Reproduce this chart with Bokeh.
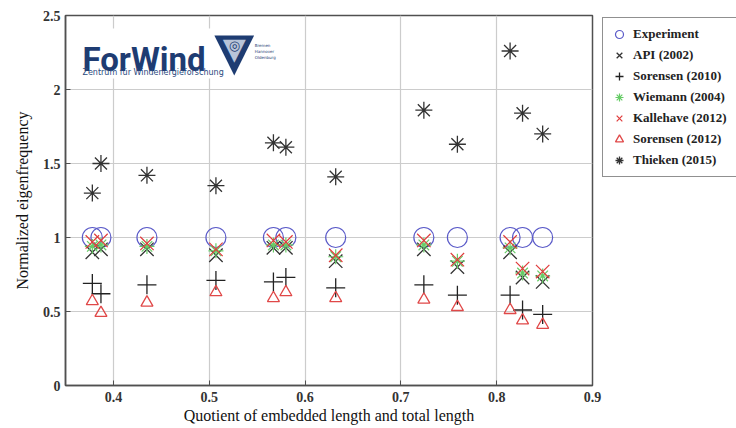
from bokeh.plotting import figure
from bokeh.models import Legend, LegendItem, Label, BoxAnnotation, FixedTicker
from bokeh.embed import file_html
from bokeh.resources import INLINE

# ---- data ----
quotient = [0.378, 0.387, 0.435, 0.507, 0.567, 0.580, 0.632, 0.724, 0.759, 0.814, 0.827, 0.848]
experiment = [1.0, 1.0, 1.0, 1.0, 1.0, 1.0, 1.0, 1.0, 1.0, 1.0, 1.0, 1.0]
api_2002 = [0.90, 0.92, 0.92, 0.88, 0.93, 0.93, 0.84, 0.92, 0.80, 0.90, 0.73, 0.70]
sorensen_2010 = [0.69, 0.62, 0.68, 0.71, 0.70, 0.73, 0.66, 0.68, 0.61, 0.61, 0.51, 0.48]
wiemann_2004 = [0.94, 0.95, 0.94, 0.91, 0.95, 0.95, 0.87, 0.95, 0.84, 0.93, 0.76, 0.74]
kallehave_2012 = [0.97, 0.98, 0.96, 0.92, 0.98, 0.97, 0.88, 0.98, 0.85, 0.97, 0.79, 0.77]
sorensen_2012 = [0.57, 0.49, 0.56, 0.63, 0.59, 0.63, 0.59, 0.58, 0.53, 0.51, 0.44, 0.41]
thieken_2015 = [1.30, 1.50, 1.42, 1.35, 1.64, 1.61, 1.41, 1.86, 1.63, 2.26, 1.84, 1.70]

x_ticks = [0.4, 0.5, 0.6, 0.7, 0.8, 0.9]
y_ticks = [0, 0.5, 1, 1.5, 2, 2.5]
y_tick_labels = ["0", "0.5", "1", "1.5", "2", "2.5"]
x_tick_labels = ["0.4", "0.5", "0.6", "0.7", "0.8", "0.9"]

SERIF = "Liberation Serif"

p = figure(frame_width=527, frame_height=370, x_range=(0.35, 0.9), y_range=(0, 2.5),
           output_backend="svg", toolbar_location=None,
           min_border_left=65, min_border_top=15, min_border_right=0, min_border_bottom=43,
           background_fill_color="white", border_fill_color="white")

p.outline_line_color = "#505050"
p.outline_line_width = 1.5

p.xaxis.ticker = FixedTicker(ticks=x_ticks)
p.yaxis.ticker = FixedTicker(ticks=y_ticks)
p.xaxis.major_label_overrides = {t: l for t, l in zip(x_ticks, x_tick_labels)}
p.yaxis.major_label_overrides = {t: l for t, l in zip(y_ticks, y_tick_labels)}
for ax in (p.xaxis[0], p.yaxis[0]):
    ax.axis_line_color = "#505050"
    ax.axis_line_width = 1.5
    ax.major_tick_in = 5
    ax.major_tick_out = 0
    ax.minor_tick_line_color = None
    ax.major_tick_line_color = "#505050"
    ax.major_label_text_font = SERIF
    ax.major_label_text_font_style = "bold"
    ax.major_label_text_font_size = "14px"
    ax.major_label_text_color = "#333333"
    ax.axis_label_text_font = SERIF
    ax.axis_label_text_font_style = "normal"
    ax.axis_label_text_font_size = "16px"
    ax.axis_label_text_color = "#111111"

p.xaxis.axis_label = "Quotient of embedded length and total length"
p.yaxis.axis_label = "Normalized eigenfrequency"
p.xaxis.major_label_standoff = 6
p.xaxis.axis_label_standoff = 2
p.yaxis.major_label_standoff = 5
p.yaxis.axis_label_standoff = 9

p.xgrid.grid_line_color = "#cccccc"
p.ygrid.grid_line_color = "#cccccc"
p.xgrid.grid_line_width = 1.2
p.ygrid.grid_line_width = 1.2

# ---- series ----
r_exp = p.scatter(quotient, experiment, marker="circle", size=20, fill_color=None,
                  line_color="#5a5ac8", line_width=1.2)
r_api = p.scatter(quotient, api_2002, marker="x", size=19, line_color="#333333", line_width=1.3)
r_s10 = p.scatter(quotient, sorensen_2010, marker="cross", size=19, line_color="#222222", line_width=1.3)
r_wie = p.scatter(quotient, wiemann_2004, marker="asterisk", size=15, line_color="#66cc66", line_width=1.2)
r_kal = p.scatter(quotient, kallehave_2012, marker="x", size=19, line_color="#e03c3c", line_width=1.2)
r_s12 = p.scatter(quotient, sorensen_2012, marker="triangle", size=12, fill_color=None,
                  line_color="#e04848", line_width=1.3)
r_thi = p.scatter(quotient, thieken_2015, marker="asterisk", size=17, line_color="#333333", line_width=1.3)

legend = Legend(items=[
    LegendItem(label="Experiment", renderers=[r_exp]),
    LegendItem(label="API (2002)", renderers=[r_api]),
    LegendItem(label="Sorensen (2010)", renderers=[r_s10]),
    LegendItem(label="Wiemann (2004)", renderers=[r_wie]),
    LegendItem(label="Kallehave (2012)", renderers=[r_kal]),
    LegendItem(label="Sorensen (2012)", renderers=[r_s12]),
    LegendItem(label="Thieken (2015)", renderers=[r_thi]),
], location=(10, 208))
legend.margin = 0
legend.padding = 6
legend.spacing = 1
legend.glyph_width = 20
legend.glyph_height = 20
legend.label_height = 20
legend.label_width = 108
legend.label_standoff = 4
legend.label_text_font = SERIF
legend.label_text_font_style = "bold"
legend.label_text_font_size = "13px"
legend.label_text_color = "#222222"
legend.border_line_color = "#222222"
legend.border_line_width = 1.5
legend.background_fill_color = "white"
legend.background_fill_alpha = 1
p.add_layout(legend, "right")

# ---- ForWind logo (decoration) ----
p.add_layout(BoxAnnotation(left=0.352, right=0.569, bottom=2.074, top=2.412,
                           fill_color="white", fill_alpha=1, line_color=None))
p.add_layout(Label(x=0.3677, y=2.203, text="ForWind", text_font="Roboto", text_font_style="bold",
                   text_font_size="33px", text_color="#1e3c72", text_baseline="alphabetic"))
p.add_layout(Label(x=0.3677, y=2.113, text="Zentrum für Windenergieforschung", text_font="DejaVu Sans",
                   text_font_size="8px", text_color="#2a4a80", text_baseline="alphabetic"))
p.add_layout(Label(x=0.5262, y=2.257, text="▼", text_font="DejaVu Sans", text_font_size="52px",
                   text_color="#1e3c72", text_align="center", text_baseline="middle"))
p.add_layout(Label(x=0.5262, y=2.277, text="▼", text_font="DejaVu Sans", text_font_size="30px",
                   text_color="#b8c4d8", text_align="center", text_baseline="middle"))
p.add_layout(Label(x=0.5262, y=2.297, text="◎", text_font="DejaVu Sans", text_font_size="13px",
                   text_color="#1e3c72", text_align="center", text_baseline="middle"))
p.add_layout(Label(x=0.5475, y=2.2, text="Bremen\nHannover\nOldenburg", text_font="DejaVu Sans",
                   text_font_size="4px", text_color="#1e3c72", text_baseline="bottom"))

open("out.html", "w").write(file_html(p, INLINE))
